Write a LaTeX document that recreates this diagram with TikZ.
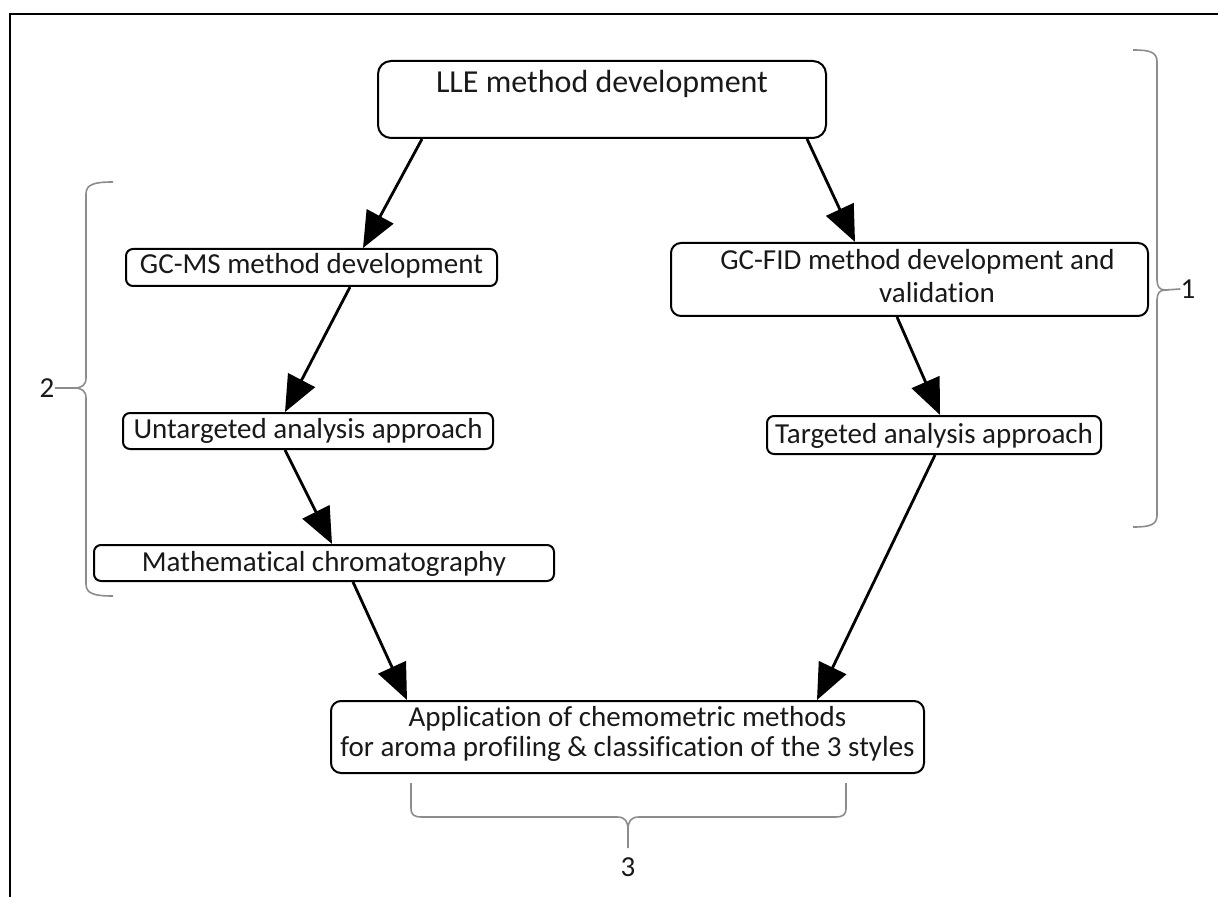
\documentclass[tikz,border=0pt]{standalone}
\usepackage{fontspec}
\setmainfont{Carlito}[Ligatures=NoCommon]
\usetikzlibrary{arrows.meta}
\tikzset{
  box/.style={draw=black, line width=1pt, rounded corners=3.5pt, inner xsep=0pt, inner ysep=0pt,
    anchor=north west, font=\fontsize{14.5pt}{16.5pt}\selectfont, text=black!90},
  flow/.style={line width=1.4pt, -{Triangle[length=18pt,width=15pt]}},
  brace/.style={draw=black!45, line width=0.8pt},
  bracelabel/.style={font=\fontsize{14.5pt}{16.5pt}\selectfont, text=black!90, inner sep=0pt}
}
\begin{document}
\begin{tikzpicture}[x=0.5pt, y=-0.5pt]
\useasboundingbox (0,0) rectangle (1218,897);
% outer frame
\draw[line width=1pt] (10,897) -- (10,14) -- (1218,14);

% boxes
\node[box, rounded corners=6.5pt, minimum width=224pt, text height=16pt, text depth=22.5pt,
  font=\fontsize{16pt}{18pt}\selectfont] (lle) at (377,60) {LLE method development};
\node[box, minimum width=185.5pt, text height=12.5pt, text depth=6pt] (gcms) at (125,248) {GC-MS method development};
\node[box, rounded corners=5pt, minimum width=238.5pt, text height=13.5pt, text depth=23pt] (gcfid) at (670,242)
  {\begin{tabular}[t]{@{}c@{}}\hspace*{8pt}GC-FID method development and\\ \hspace*{27.5pt}validation\end{tabular}};
\node[box, minimum width=185pt, text height=12.5pt, text depth=5.5pt] (untar) at (122,412) {Untargeted analysis approach};
\node[box, minimum width=167pt, text height=13.5pt, text depth=5.5pt] (tar) at (766,415) {Targeted analysis approach};
\node[box, minimum width=230pt, text height=13pt, text depth=5pt] (math) at (93,544) {Mathematical chromatography};
\node[box, rounded corners=5pt, minimum width=296.5pt, text height=12.5pt, text depth=23.5pt] (app) at (330,700)
  {\fontsize{14.5pt}{15pt}\selectfont\begin{tabular}[t]{@{}c@{}}Application of chemometric methods\\ for aroma profiling \& classification of the 3 styles\end{tabular}};

% arrows
\draw[flow] ([xshift=22.5pt]lle.south west) -- ([xshift=119pt]gcms.north west);
\draw[flow] ([xshift=215pt]lle.south west) -- ([xshift=92.5pt]gcfid.north west);
\draw[flow] ([xshift=112.5pt]gcms.south west) -- ([xshift=81.5pt]untar.north west);
\draw[flow] ([xshift=113.5pt]gcfid.south west) -- ([xshift=87pt]tar.north west);
\draw[flow] ([xshift=81.5pt]untar.south west) -- ([xshift=119.5pt]math.north west);
\draw[flow] ([xshift=130pt]math.south west) -- ([xshift=38.5pt]app.north west);
\draw[flow] ([xshift=84.5pt]tar.south west) -- ([xshift=243.5pt]app.north west);

% brace 1
\draw[brace] (1133,50) .. controls (1150,50) and (1157,52) .. (1157,62) -- (1157,280)
  .. controls (1157,287) and (1160,290) .. (1165,290)
  .. controls (1160,290) and (1157,293) .. (1157,300) -- (1157,515)
  .. controls (1157,525) and (1150,527) .. (1133,527);
\coordinate (b1tip) at (1165,290);
\node[bracelabel] (l1) at (1188,289) {1};
\draw[brace] (b1tip) -- (l1.west);

% brace 2
\draw[brace] (113,182) .. controls (95,182) and (86,184) .. (86,194) -- (86,378)
  .. controls (86,385) and (82,388) .. (74,388)
  .. controls (82,388) and (86,391) .. (86,398) -- (86,584)
  .. controls (86,594) and (95,596) .. (113,596);
\coordinate (b2tip) at (74,388);
\node[bracelabel] (l2) at (47,388) {2};
\draw[brace] (b2tip) -- (l2.east);

% brace 3
\draw[brace] (411,783) -- (411,808) .. controls (411,815) and (414,817) .. (422,817) -- (617,817)
  .. controls (625,817) and (628,821) .. (628,830) -- (628,848);
\draw[brace] (846,783) -- (846,808) .. controls (846,815) and (843,817) .. (835,817) -- (639,817)
  .. controls (631,817) and (628,821) .. (628,830);
\coordinate (b3tip) at (628,848);
\node[bracelabel] (l3) at (628,867) {3};
\end{tikzpicture}
\end{document}
